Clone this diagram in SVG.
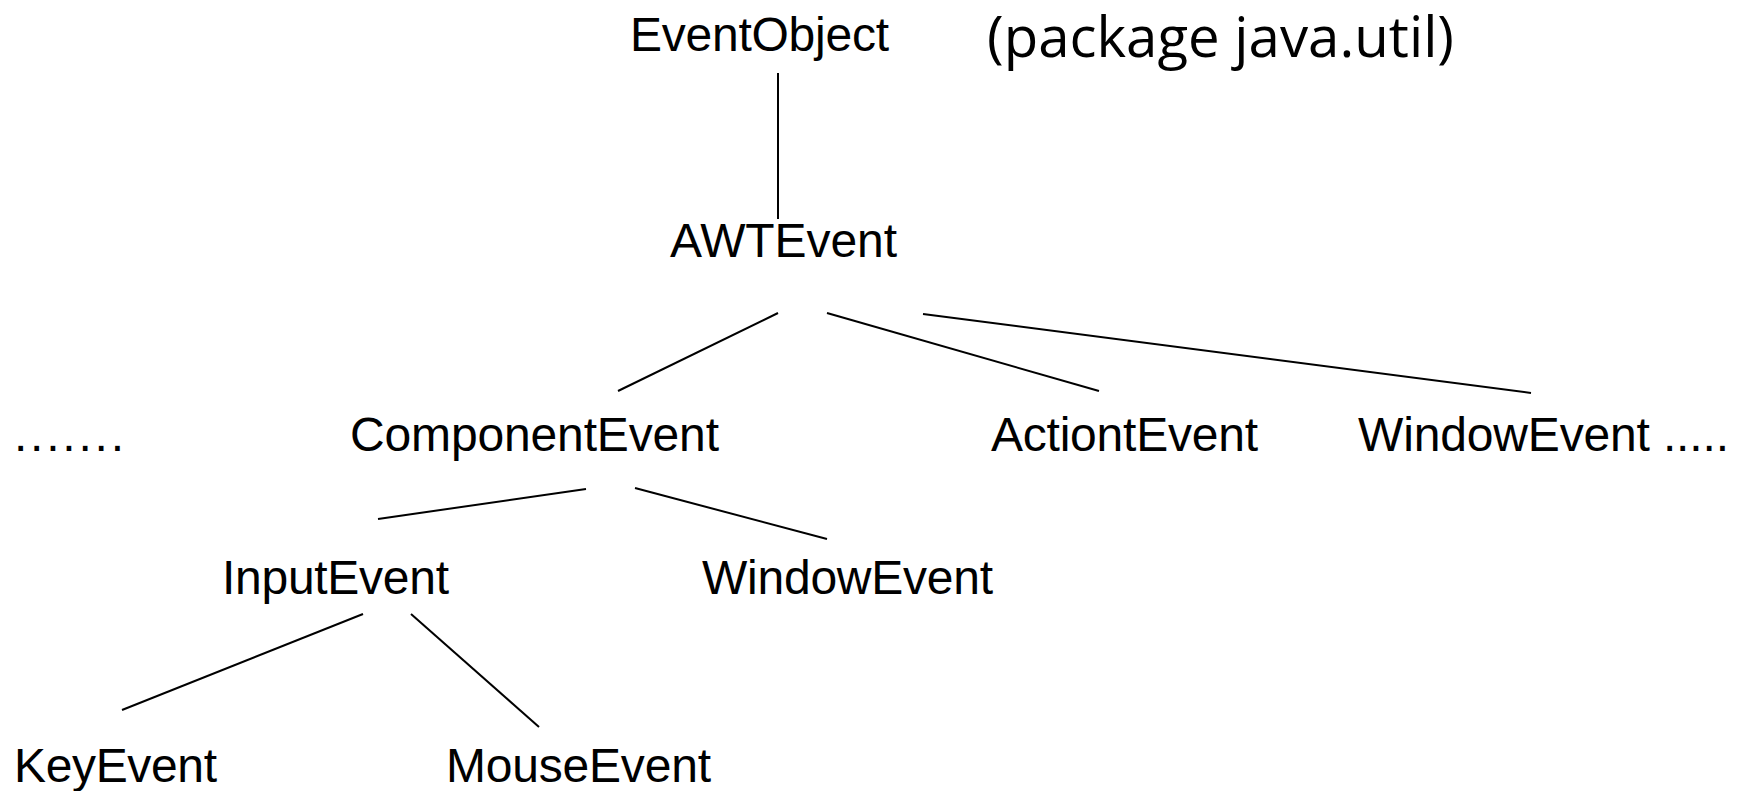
<svg xmlns="http://www.w3.org/2000/svg" width="1740" height="791" viewBox="0 0 1740 791">
<style>
.t{font-family:"Liberation Sans",Arial,sans-serif;font-size:48px;fill:#000}
.c{font-family:"Open Sans","Noto Sans",sans-serif;font-size:56px;fill:#000}
.e{stroke:#000;stroke-width:2;fill:none}
</style>
<rect width="1740" height="791" fill="#fff"/>
<g id="connectors">
<line class="e" x1="778" y1="73" x2="778" y2="219"/>
<line class="e" x1="778" y1="313" x2="618" y2="391"/>
<line class="e" x1="827" y1="313" x2="1099" y2="391"/>
<line class="e" x1="923" y1="314" x2="1531" y2="393"/>
<line class="e" x1="586" y1="489" x2="378" y2="519"/>
<line class="e" x1="635" y1="488" x2="827" y2="539"/>
<line class="e" x1="363" y1="614" x2="122" y2="710"/>
<line class="e" x1="411" y1="614" x2="539" y2="727"/>
</g>
<g id="eventobject"><text class="t" x="630" y="51" textLength="259">EventObject</text></g>
<g id="package-note"><text class="c" x="987" y="57" textLength="467" lengthAdjust="spacingAndGlyphs">(package java.util)</text></g>
<g id="awtevent"><text class="t" x="670" y="257" textLength="227">AWTEvent</text></g>
<g id="dots-left"><text class="t" x="14" y="451" textLength="110">.......</text></g>
<g id="componentevent"><text class="t" x="350" y="451" textLength="369">ComponentEvent</text></g>
<g id="actiontevent"><text class="t" x="991" y="451" textLength="267">ActiontEvent</text></g>
<g id="windowevent-top"><text class="t" x="1358" y="451" textLength="371">WindowEvent .....</text></g>
<g id="inputevent"><text class="t" x="222" y="594" textLength="227">InputEvent</text></g>
<g id="windowevent"><text class="t" x="702" y="594" textLength="291">WindowEvent</text></g>
<g id="keyevent"><text class="t" x="14" y="782" textLength="203">KeyEvent</text></g>
<g id="mouseevent"><text class="t" x="446" y="782" textLength="265">MouseEvent</text></g>
</svg>
